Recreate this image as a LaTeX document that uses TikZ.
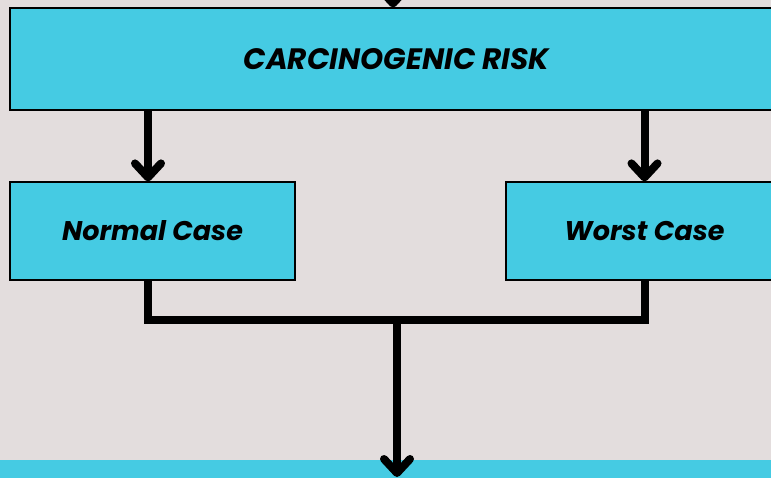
\documentclass[tikz,border=0pt]{standalone}
\usepackage{fontspec}
\setmainfont{Poppins}
\usepackage{tikz}
\usetikzlibrary{positioning,arrows.meta,calc}
\definecolor{paper}{HTML}{E3DDDD}
\definecolor{sky}{HTML}{45CBE3}
\tikzset{
  box/.style={draw=black,line width=1.2pt,fill=sky,inner sep=0pt,
    font=\fontsize{27}{32}\selectfont\bfseries\itshape},
  link/.style={line width=8pt,-{Straight Barb[length=14pt,width=26pt,round]}},
  wire/.style={line width=8pt}
}

\begin{document}
\begin{tikzpicture}[x=1pt,y=-1pt]
  \fill[paper] (0,0) rectangle (771,477);
  \useasboundingbox (0,0) rectangle (771,477);
  \node[box,minimum width=773pt,minimum height=102pt,
    font=\fontsize{29.5}{34}\selectfont\bfseries\itshape] (risk) at (396.5,59) {CARCINOGENIC RISK};
  \node[box,minimum width=285pt,minimum height=98pt] (normal) at (152.5,231) {Normal Case};
  \node[box,minimum width=277pt,minimum height=98pt] (worst) at (644.5,231) {Worst Case};
  \node[fill=sky,inner sep=0pt,minimum width=771pt,minimum height=40pt] (next) at (385.5,480) {};
  \coordinate (top) at (393,-40);
  \coordinate (join) at (397,320);
  \coordinate (end) at (397,477);
  % arrows into and out of the risk box
  \draw[link] (top) -- (top |- risk.north);
  \draw[link] ([xshift=-4.5pt]normal.north |- risk.south) -- ([xshift=-4.5pt]normal.north);
  \draw[link] (worst.north |- risk.south) -- (worst.north);
  % both cases meet and go down
  \draw[wire] ([xshift=-4.5pt]normal.south) |- (join) -| (worst.south);
  \draw[link] (join) -- (end);
\end{tikzpicture}
\end{document}
